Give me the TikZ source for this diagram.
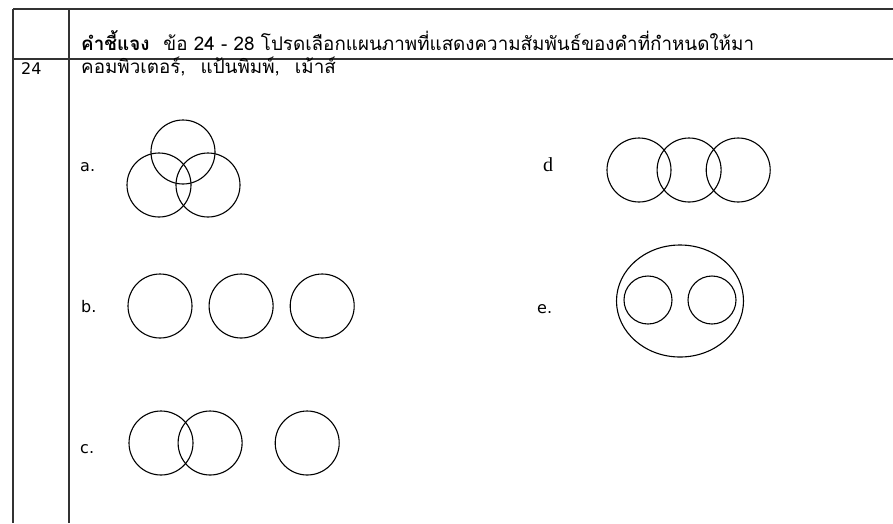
\documentclass[tikz,border=0pt]{standalone}
\usepackage{fontspec}
\usetikzlibrary{positioning,shapes.geometric}
\setmainfont{DejaVu Sans}
\newfontfamily\thaifont[Script=Thai]{Loma}
\newfontfamily\serifd{Liberation Serif}

\begin{document}
\begin{tikzpicture}[
  x=1pt, y=-1pt,
  rule/.style={line width=1.2pt, black!80},
  circ/.style={draw, circle, line width=1.1pt, minimum size=#1, inner sep=0pt},
  circ/.default=64pt,
  lbl/.style={font=\fontsize{16}{18}\selectfont, anchor=base west, inner sep=0pt},
  txt/.style={font=\thaifont\fontsize{18.8}{21}\selectfont, anchor=base west, inner sep=0pt}]
\useasboundingbox (0,0) rectangle (893,523);
% table rules
\draw[rule] (13,9) -- (893,9);
\draw[rule] (13,59) -- (893,59);
\draw[rule] (13,9) -- (13,523);
\draw[rule] (69,9) -- (69,523);
% header and item
\node[txt] (head) at (81,50) {\textbf{คำชี้แจง}\hspace{14pt}ข้อ 24 - 28 โปรดเลือกแผนภาพที่แสดงความสัมพันธ์ของคำที่กำหนดให้มา};
\node[lbl] (num) at (21,74) {24};
\node[txt] (item) at (81,73) {คอมพิวเตอร์,\hspace{15pt}แป้นพิมพ์,\hspace{15pt}เม้าส์};

% a: three overlapping circles
\node[lbl] (la) at (80,171) {a.};
\node[circ] (a1) at (183,152) {};
\node[circ] (a2) at (159,185) {};
\node[circ] (a3) at (208,185) {};

% b: three separate circles
\node[lbl] (lb) at (81,312) {b.};
\node[circ] (b1) at (160,306) {};
\node[circ, right=16pt of b1] (b2) {};
\node[circ, right=16pt of b2] (b3) {};

% c: two overlapping, one apart
\node[lbl] (lc) at (80,453) {c.};
\node[circ] (c1) at (161,443) {};
\node[circ, right=-16pt of c1] (c2) {};
\node[circ, right=32pt of c2] (c3) {};

% d: chain of three
\node[lbl, font=\serifd\fontsize{20}{22}\selectfont] (ld) at (543,171) {d};
\node[circ] (d1) at (639,170) {};
\node[circ, right=-15pt of d1] (d2) {};
\node[circ, right=-16pt of d2] (d3) {};

% e: two circles inside an ellipse
\node[lbl] (le) at (537,313) {e.};
\node[draw, ellipse, line width=1.1pt, minimum width=127pt, minimum height=112pt, inner sep=0pt] (e0) at (680,301) {};
\node[circ=48pt] (e1) at (648,300) {};
\node[circ=48pt] (e2) at (712,300) {};
\end{tikzpicture}
\end{document}
